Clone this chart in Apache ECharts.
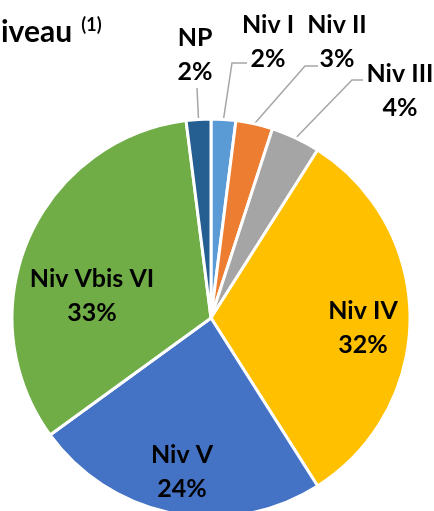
<!DOCTYPE html>
<html><head><meta charset="utf-8">
<script src="https://cdn.jsdelivr.net/npm/echarts@6/dist/echarts.min.js"></script>
<style>html,body{margin:0;padding:0;background:#fff}#c{width:434px;height:511px}</style>
</head><body><div id="c"></div>
<script>
const categories = ['Niv I', 'Niv II', 'Niv III', 'Niv IV', 'Niv V', 'Niv Vbis VI', 'NP'];
const values = [2, 3, 4, 32, 24, 33, 2];
const colors = ['#5B9BD5', '#ED7D31', '#A5A5A5', '#FFC000', '#4472C4', '#70AD47', '#255E91'];
const titleText = 'Niveau';
const titleNote = '(1)';

// label placement (styling only)
const labelPos = {
  'Niv I': {x: 268, y: 42, end: [-21, 21], elbow: 15},
  'Niv II': {x: 337, y: 42, end: [-19, 24], elbow: 13},
  'Niv III': {x: 400, y: 91, end: [-37, -11], elbow: 11},
  'NP': {x: 195, y: 55, end: [2, 33], elbow: 0},
  'Niv IV': {x: 363, y: 328},
  'Niv V': {x: 182, y: 472},
  'Niv Vbis VI': {x: 92, y: 296}
};
const insideSet = new Set(['Niv IV', 'Niv V', 'Niv Vbis VI']);

const chart = echarts.init(document.getElementById('c'), null, {renderer: 'canvas'});
const FONT = 'Lato';
chart.setOption({
  animation: false,
  backgroundColor: '#fff',
  title: {
    text: '{t|' + titleText + ' }{s|' + titleNote + '}',
    left: -22, top: 10, padding: 0,
    textStyle: {
      rich: {
        t: {fontFamily: FONT, fontWeight: 'bold', fontSize: 30, color: '#000', lineHeight: 44},
        s: {fontFamily: FONT, fontWeight: 'bold', fontSize: 18, color: '#000', padding: [0, 0, 14, 2]}
      }
    }
  },
  series: [{
    type: 'pie',
    center: [211, 318],
    radius: 199,
    startAngle: 90,
    clockwise: true,
    avoidLabelOverlap: false,
    emphasis: {disabled: true},
    itemStyle: {borderColor: '#fff', borderWidth: 3},
    label: {
      fontFamily: FONT, fontWeight: 'bold', fontSize: 25, lineHeight: 34, color: '#000',
      formatter: '{b}\n{c}%'
    },
    labelLine: {length: 15, length2: 15, smooth: false, lineStyle: {color: '#A6A6A6', width: 1.5}},
    labelLayout: function (params) {
      const name = categories[params.dataIndex];
      const p = labelPos[name];
      const res = {x: p.x, y: p.y, align: 'center', verticalAlign: 'middle'};
      if (!insideSet.has(name) && params.labelLinePoints) {
        const a = params.labelLinePoints[0];
        const e = [p.x + p.end[0], p.y + p.end[1]];
        const b = [e[0] - p.elbow, e[1]];
        res.labelLinePoints = [a, b, e];
      }
      return res;
    },
    data: categories.map((n, i) => ({
      name: n,
      value: values[i],
      itemStyle: {color: colors[i]},
      label: {position: insideSet.has(n) ? 'inside' : 'outside'},
      labelLine: {show: !insideSet.has(n)}
    }))
  }]
});
</script>
</body></html>
